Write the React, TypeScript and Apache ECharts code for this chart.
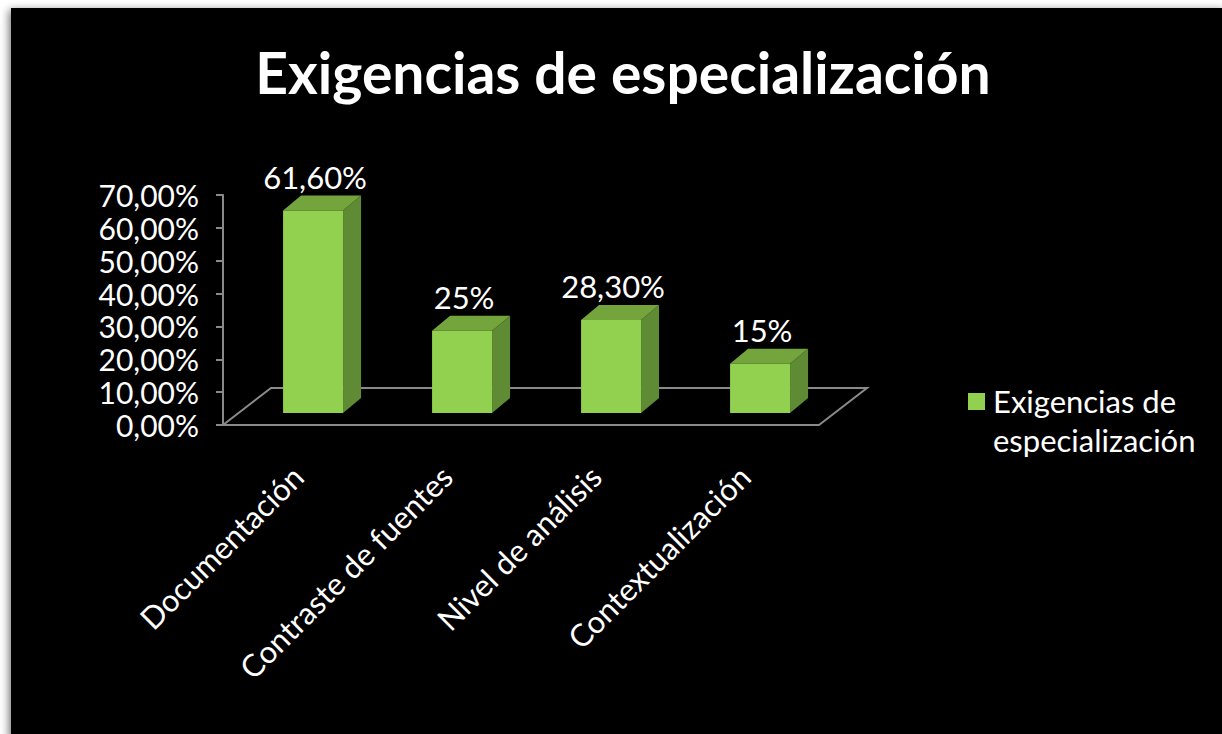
import React, { useEffect, useRef } from "react";
import * as echarts from "echarts";

const titleText = "Exigencias de especialización";
const seriesName = "Exigencias de especialización";
const legendLines = ["Exigencias de", "especialización"];
const categories = ["Documentación", "Contraste de fuentes", "Nivel de análisis", "Contextualización"];
const values = [61.6, 25, 28.3, 15];
const yMin = 0;
const yMax = 70;
const yStep = 10;

const FONT = "Lato, 'Noto Sans', sans-serif";
const FRONT = "#92D050";
const SIDE = "#5E8B33";
const TOP = "#74A53D";
const AXIS = "#8A8A8A";

function fmtPct(v: number): string {
  if (Number.isInteger(v)) return `${v}%`;
  return `${v.toFixed(2).replace(".", ",")}%`;
}

export default function App() {
  const ref = useRef<HTMLDivElement>(null);
  useEffect(() => {
    if (!ref.current) return;
    const chart = echarts.init(ref.current, null, { renderer: "svg" });
    const depthX = 48;
    const depthY = -37;
    const barW = 60;
    const barDX = 18;
    const barDY = -15;
    const barBack = 12;

    const renderItem = (params: any, api: any) => {
      const idx = api.value(0);
      const v = api.value(1);
      const base = api.coord([idx, 0]);
      const tp = api.coord([idx, v]);
      const cs = params.coordSys;
      const shift = (barBack * depthX) / -depthY;
      const cx = base[0] + shift;
      const yb = base[1] - barBack;
      const yt = tp[1] - barBack;
      const l = cx - barW / 2;
      const r = cx + barW / 2;
      const children: any[] = [];
      if (params.dataIndex === 0) {
        const x0 = cs.x;
        const x1 = cs.x + cs.width;
        const y0 = cs.y + cs.height;
        children.push({
          type: "polyline",
          shape: {
            points: [
              [x0, y0],
              [x0 + depthX, y0 + depthY],
              [x1 + depthX, y0 + depthY],
              [x1, y0],
            ],
          },
          style: { stroke: AXIS, lineWidth: 2, fill: null },
        });
      }
      children.push({
        type: "polygon",
        shape: { points: [[r, yt], [r + barDX, yt + barDY], [r + barDX, yb + barDY], [r, yb]] },
        style: { fill: SIDE },
      });
      children.push({
        type: "polygon",
        shape: { points: [[l, yt], [l + barDX, yt + barDY], [r + barDX, yt + barDY], [r, yt]] },
        style: { fill: TOP },
      });
      children.push({
        type: "rect",
        shape: { x: l, y: yt, width: barW, height: yb - yt },
        style: { fill: FRONT },
      });
      children.push({
        type: "text",
        x: cx + 2,
        y: yt + barDY - 19,
        style: {
          text: fmtPct(v),
          fill: "#FFFFFF",
          font: `31px ${FONT}`,
          align: "center",
          verticalAlign: "middle",
        },
      });
      return { type: "group", children };
    };

    chart.setOption({
      animation: false,
      backgroundColor: "#FFFFFF",
      title: {
        text: titleText,
        left: 618,
        top: 38,
        textAlign: "center",
        textStyle: { color: "#FFFFFF", fontFamily: FONT, fontWeight: "bold", fontSize: 57 },
      },
      graphic: {
        elements: [
          {
            type: "rect",
            z: -100,
            shape: { x: 11, y: 8, width: 1215, height: 730 },
            style: {
              fill: "#000000",
              shadowBlur: 8,
              shadowColor: "rgba(0,0,0,0.55)",
              shadowOffsetX: -2,
              shadowOffsetY: 2,
            },
          },
          {
            type: "rect",
            shape: { x: 968, y: 393, width: 17, height: 17 },
            style: { fill: FRONT },
          },
          {
            type: "text",
            x: 993,
            y: 381,
            style: {
              text: legendLines.join("\n"),
              fill: "#FFFFFF",
              font: `31px ${FONT}`,
              lineHeight: 39,
              verticalAlign: "top",
            },
          },
        ],
      },
      grid: { left: 223, top: 195, width: 596, height: 230 },
      xAxis: {
        type: "category",
        data: categories,
        axisLine: { lineStyle: { color: AXIS, width: 2 } },
        axisTick: { length: 8, lineStyle: { color: AXIS, width: 2 } },
        axisLabel: {
          rotate: 45,
          margin: 46,
          color: "#FFFFFF",
          fontFamily: FONT,
          fontSize: 31,
          interval: 0,
        },
        splitLine: { show: false },
      },
      yAxis: {
        type: "value",
        min: yMin,
        max: yMax,
        interval: yStep,
        axisLine: { show: true, lineStyle: { color: AXIS, width: 2 } },
        axisTick: { show: true, length: 7, lineStyle: { color: AXIS, width: 2 } },
        axisLabel: {
          color: "#FFFFFF",
          fontFamily: FONT,
          fontSize: 30,
          margin: 24,
          formatter: (v: number) => `${v.toFixed(2).replace(".", ",")}%`,
        },
        splitLine: { show: false },
      },
      series: [
        {
          type: "custom",
          name: seriesName,
          renderItem,
          itemStyle: { color: FRONT },
          encode: { x: 0, y: 1 },
          data: values.map((v, i) => [i, v]),
          clip: false,
        },
      ],
    });
    return () => chart.dispose();
  }, []);
  return (
    <div
      ref={ref}
      style={{ position: "absolute", left: 0, top: 0, width: 1222, height: 734 }}
    />
  );
}
